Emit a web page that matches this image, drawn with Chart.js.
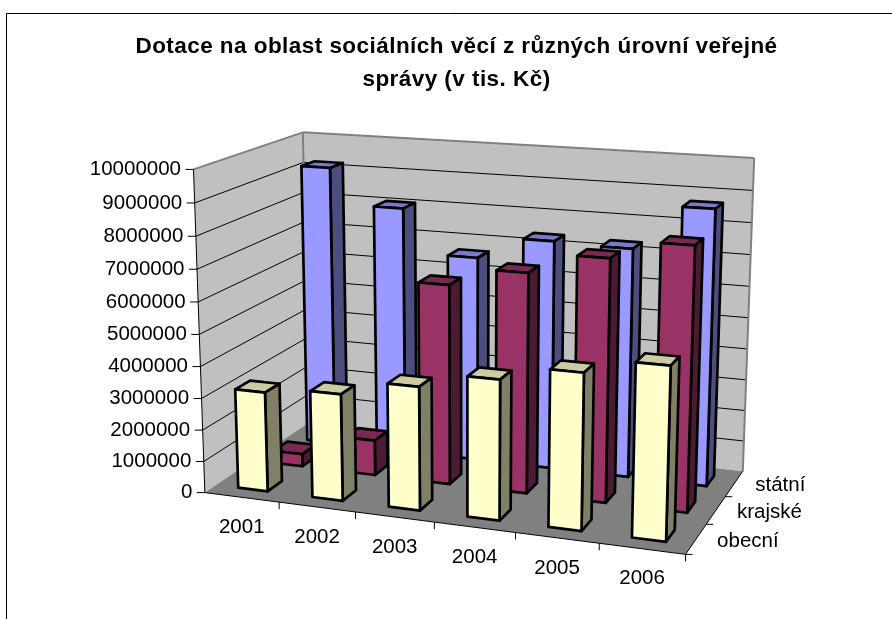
<!DOCTYPE html>
<html>
<head>
<meta charset="utf-8">
<script src="https://cdn.jsdelivr.net/npm/chart.js"></script>
<style>
  body { margin: 0; background: #fff; }
  canvas { display: block; }
</style>
</head>
<body>
<canvas id="dotaceChart" width="892" height="619"></canvas>
<script>
  var years = ['2001', '2002', '2003', '2004', '2005', '2006'];
  var levels = ['obecní', 'krajské', 'státní'];
  var obecni = [3150000, 3350000, 3830000, 4300000, 4750000, 5200000];
  var krajske = [400000, 1130000, 6330000, 6900000, 7530000, 8100000];
  var statni = [9200000, 8050000, 6640000, 7350000, 7300000, 8700000];
  var yMax = 10000000;
  var yStep = 1000000;

  // measured points of the 3D box: [u, v, w, screen x, screen y]
  var boxPoints = [
    [0, 0, 0, 207.7, 491], [1/6, 0, 0, 280.7, 501.7], [2/6, 0, 0, 356, 513.3], [3/6, 0, 0, 435, 523.3],
    [4/6, 0, 0, 515.7, 533.3], [5/6, 0, 0, 599, 544], [1, 0, 0, 684, 555],
    [1, 0, 1/3, 705.8, 524.3], [1, 0, 2/3, 726, 495], [1, 0, 1, 743.3, 471],
    [0, 0.2, 0, 197.5, 429.3], [0, 0.5, 0, 200, 334], [0, 0.8, 0, 196, 235.7], [0, 1, 0, 194, 169.3],
    [0, 0, 1, 308.3, 421.7], [0, 0.5, 1, 305.5, 283.3], [0, 1, 1, 303.3, 131.7],
    [1, 0.5, 1, 748.5, 316.7], [1, 1, 1, 754, 158.3]
  ];

  // least squares fit of a projective map from the box to the screen
  function fitProjection(points) {
    var n = 11;
    var A = [];
    for (var i = 0; i < n; i++) {
      A.push(new Array(n + 1).fill(0));
    }
    function addRow(row, rhs) {
      for (var r = 0; r < n; r++) {
        for (var c = 0; c < n; c++) {
          A[r][c] += row[r] * row[c];
        }
        A[r][n] += row[r] * rhs;
      }
    }
    points.forEach(function(p) {
      addRow([1, p[0], p[1], p[2], 0, 0, 0, 0, -p[3] * p[0], -p[3] * p[1], -p[3] * p[2]], p[3]);
      addRow([0, 0, 0, 0, 1, p[0], p[1], p[2], -p[4] * p[0], -p[4] * p[1], -p[4] * p[2]], p[4]);
    });
    for (var k = 0; k < n; k++) {
      var best = k;
      for (var r = k + 1; r < n; r++) {
        if (Math.abs(A[r][k]) > Math.abs(A[best][k])) best = r;
      }
      var tmp = A[k]; A[k] = A[best]; A[best] = tmp;
      for (var r2 = 0; r2 < n; r2++) {
        if (r2 === k) continue;
        var f = A[r2][k] / A[k][k];
        for (var c2 = k; c2 <= n; c2++) {
          A[r2][c2] -= f * A[k][c2];
        }
      }
    }
    return A.map(function(row, i) { return row[n] / row[i]; });
  }

  var m = fitProjection(boxPoints);

  function project(u, v, w) {
    var d = 1 + m[8] * u + m[9] * v + m[10] * w;
    return {
      x: (m[0] + m[1] * u + m[2] * v + m[3] * w) / d,
      y: (m[4] + m[5] * u + m[6] * v + m[7] * w) / d
    };
  }

  function face(ctx, pts, fill, stroke, lineWidth) {
    ctx.beginPath();
    pts.forEach(function(p, i) {
      var s = project(p[0], p[1], p[2]);
      if (i === 0) ctx.moveTo(s.x, s.y); else ctx.lineTo(s.x, s.y);
    });
    ctx.closePath();
    if (fill) {
      ctx.fillStyle = fill;
      ctx.fill();
    }
    if (stroke) {
      ctx.strokeStyle = stroke;
      ctx.lineWidth = lineWidth;
      ctx.stroke();
    }
  }

  function line(ctx, a, b, color, lineWidth) {
    ctx.beginPath();
    ctx.moveTo(a.x, a.y);
    ctx.lineTo(b.x, b.y);
    ctx.strokeStyle = color;
    ctx.lineWidth = lineWidth;
    ctx.stroke();
  }

  function decimal(scale, value) {
    return scale.getDecimalForPixel(scale.getPixelForValue(value));
  }

  // bar type that keeps the normal bar layout but paints a block in the box
  class Bar3dController extends Chart.BarController {
    draw() {
      var chart = this.chart;
      var ctx = chart.ctx;
      var ds = this.getDataset();
      var xs = chart.scales.x;
      var ys = chart.scales.y;
      var zs = chart.scales.z;
      var zc = decimal(zs, ds.label);
      var zHalf = ds.categoryPercentage / zs.ticks.length / 2;
      ctx.save();
      ctx.lineJoin = 'round';
      this.getMeta().data.forEach(function(bar) {
        var u0 = xs.getDecimalForPixel(bar.x - bar.width / 2);
        var u1 = xs.getDecimalForPixel(bar.x + bar.width / 2);
        var v = ys.getDecimalForPixel(bar.y);
        var w0 = zc - zHalf;
        var w1 = zc + zHalf;
        face(ctx, [[u0, v, w0], [u1, v, w0], [u1, v, w1], [u0, v, w1]], ds.topColor, '#000', 2.7);
        face(ctx, [[u1, 0, w0], [u1, v, w0], [u1, v, w1], [u1, 0, w1]], ds.sideColor, '#000', 2.7);
        face(ctx, [[u0, 0, w0], [u1, 0, w0], [u1, v, w0], [u0, v, w0]], ds.backgroundColor, '#000', 2.7);
      });
      ctx.restore();
    }
  }
  Bar3dController.id = 'bar3d';
  Bar3dController.defaults = Chart.BarController.defaults;
  Chart.register(Bar3dController);

  var boxPlugin = {
    id: 'box',
    beforeDraw: function(chart) {
      // only the title is drawn between here and beforeDatasetsDraw
      chart.ctx.letterSpacing = '0.45px';
    },
    beforeDatasetsDraw: function(chart) {
      var ctx = chart.ctx;
      var ys = chart.scales.y;

      ctx.letterSpacing = '0px';
      ctx.save();
      line(ctx, {x: 6.5, y: 619}, {x: 6.5, y: 13.5}, '#000', 1);
      line(ctx, {x: 6.5, y: 13.5}, {x: 892, y: 13.5}, '#000', 1);

      face(ctx, [[0, 0, 0], [0, 1, 0], [0, 1, 1], [0, 0, 1]], '#c0c0c0');
      face(ctx, [[0, 0, 1], [0, 1, 1], [1, 1, 1], [1, 0, 1]], '#c0c0c0');
      face(ctx, [[0, 0, 0], [1, 0, 0], [1, 0, 1], [0, 0, 1]], '#808080');

      ys.ticks.forEach(function(t) {
        var v = decimal(ys, t.value);
        if (v > 0 && v < 1) {
          line(ctx, project(0, v, 0), project(0, v, 1), '#000', 1);
          line(ctx, project(0, v, 1), project(1, v, 1), '#000', 1);
        }
      });

      line(ctx, project(0, 1, 0), project(0, 1, 1), '#808080', 2);
      line(ctx, project(0, 1, 1), project(1, 1, 1), '#808080', 2);
      line(ctx, project(0, 0, 1), project(0, 1, 1), '#808080', 2);
      line(ctx, project(1, 0, 1), project(1, 1, 1), '#808080', 2);
      line(ctx, project(0, 0, 0), project(0, 1, 0), '#000', 1);
      line(ctx, project(0, 0, 0), project(1, 0, 0), '#000', 1);
      line(ctx, project(1, 0, 0), project(1, 0, 1), '#000', 1);
      ctx.restore();
    },
    afterDatasetsDraw: function(chart) {
      var ctx = chart.ctx;
      var xs = chart.scales.x;
      var ys = chart.scales.y;
      var zs = chart.scales.z;

      ctx.save();
      ctx.fillStyle = '#000';
      ctx.font = '20.5px "Liberation Sans"';
      ctx.textBaseline = 'middle';

      ctx.textAlign = 'right';
      ys.ticks.forEach(function(t) {
        var p = project(0, decimal(ys, t.value), 0);
        line(ctx, {x: p.x - 8, y: p.y}, p, '#000', 1);
        ctx.fillText(t.label, p.x - 12.5, p.y);
      });

      ctx.textAlign = 'center';
      xs.ticks.forEach(function(t, i) {
        var p = project(decimal(xs, i), 0, 0);
        ctx.fillText(t.label, p.x, p.y + 30);
        var e = project((i + 1) / xs.ticks.length, 0, 0);
        line(ctx, e, {x: e.x, y: e.y + 7}, '#000', 1);
      });

      ctx.textAlign = 'left';
      zs.ticks.forEach(function(t, i) {
        var p = project(1, 0, decimal(zs, i));
        ctx.fillText(t.label, p.x + 21, p.y + 2);
        var e = project(1, 0, i / zs.ticks.length);
        line(ctx, e, {x: e.x + 7, y: e.y}, '#000', 1);
      });
      ctx.restore();
    }
  };

  var ctx = document.getElementById('dotaceChart').getContext('2d');
  var dotaceChart = new Chart(ctx, {
    type: 'bar3d',
    data: {
      labels: years,
      datasets: [
        { label: levels[0], data: obecni, backgroundColor: '#ffffcc', topColor: '#cccca3', sideColor: '#808066', categoryPercentage: 0.4, barPercentage: 1, grouped: false, clip: false },
        { label: levels[1], data: krajske, backgroundColor: '#993366', topColor: '#7a2952', sideColor: '#4d1a33', categoryPercentage: 0.4, barPercentage: 1, grouped: false, clip: false },
        { label: levels[2], data: statni, backgroundColor: '#9999ff', topColor: '#7a7acc', sideColor: '#4d4d80', categoryPercentage: 0.4, barPercentage: 1, grouped: false, clip: false }
      ]
    },
    options: {
      responsive: false,
      animation: false,
      layout: { padding: { left: 21 } },
      plugins: {
        legend: { display: false },
        tooltip: { enabled: false },
        title: {
          display: true,
          text: ['Dotace na oblast sociálních věcí z různých úrovní veřejné', 'správy (v tis. Kč)'],
          color: '#000',
          font: { family: '"Liberation Sans"', size: 22.5, weight: 'bold', lineHeight: 1.49 },
          padding: { top: 30, bottom: 10 }
        }
      },
      scales: {
        x: { type: 'category', display: false, offset: true, ticks: { autoSkip: false } },
        z: { type: 'category', axis: 'x', position: 'bottom', labels: levels, display: false, offset: true, ticks: { autoSkip: false } },
        y: {
          type: 'linear',
          display: false,
          min: 0,
          max: yMax,
          ticks: { stepSize: yStep, callback: function(v) { return String(v); } }
        }
      }
    },
    plugins: [boxPlugin]
  });
</script>
</body>
</html>
